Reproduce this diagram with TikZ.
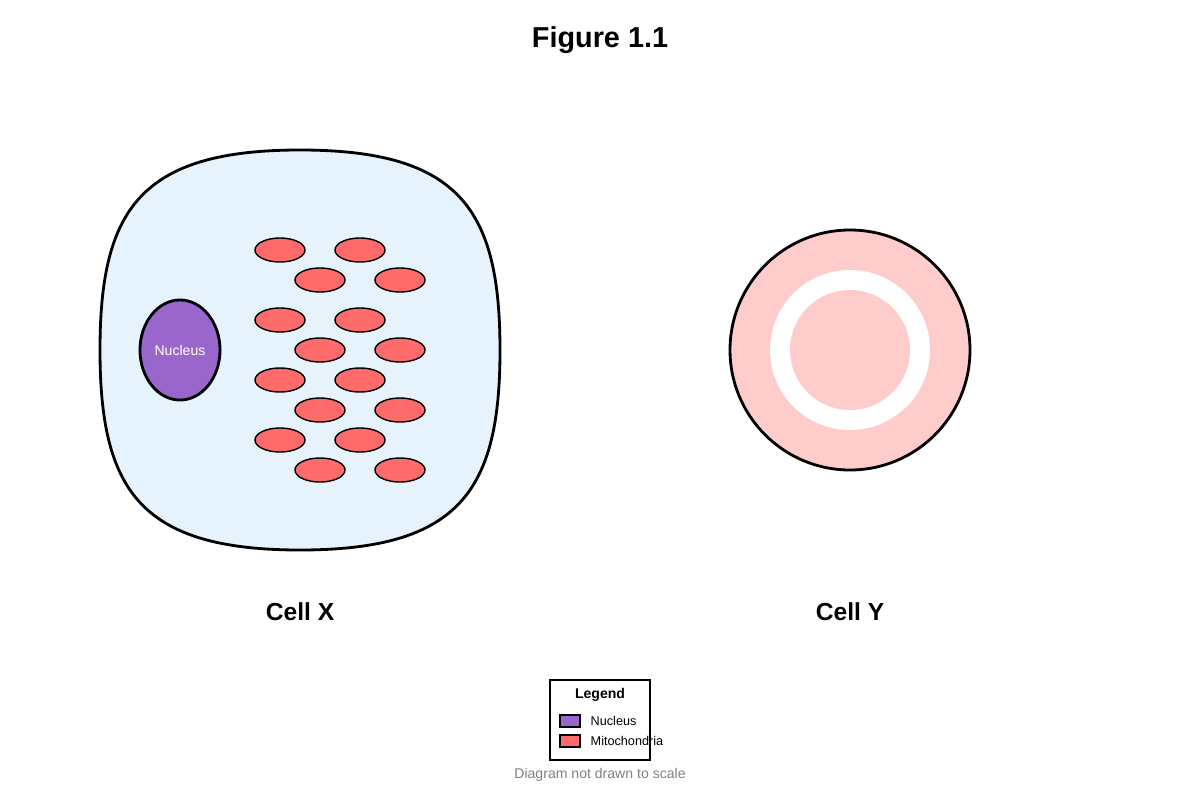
\documentclass[tikz,border=0pt]{standalone}
\usepackage{fontspec}
\setmainfont{Liberation Sans}
\definecolor{cytoplasm}{HTML}{E6F2FC}
\definecolor{nucleusfill}{HTML}{9966CC}
\definecolor{mitofill}{HTML}{FF6B6B}
\definecolor{cellpink}{HTML}{FFCCCC}
\tikzset{
  mito/.style={draw=black,fill=mitofill,ellipse,minimum width=0.5cm,minimum height=0.24cm,inner sep=0pt},
  swatch/.style={draw=black,minimum width=0.2cm,minimum height=0.12cm,inner sep=0pt},
  celllabel/.style={font=\fontsize{7}{8}\selectfont\bfseries}
}
\usetikzlibrary{shapes.geometric}
\begin{document}
\begin{tikzpicture}[x=0.01cm,y=-0.01cm]
  \useasboundingbox (0,0) rectangle (1200,800);
  \node[font=\fontsize{8.2}{9}\selectfont\bfseries] (title) at (600,40) {Figure 1.1};
  % cell X
  \filldraw[draw=black,thick,fill=cytoplasm]
    (300,150) .. controls (460,150) and (500,210) .. (500,350)
    .. controls (500,490) and (460,550) .. (300,550)
    .. controls (140,550) and (100,490) .. (100,350)
    .. controls (100,210) and (140,150) .. (300,150);
  \node[draw=black,thick,fill=nucleusfill,ellipse,minimum width=0.8cm,minimum height=1cm,inner sep=0pt,
        text=white,font=\fontsize{4}{5}\selectfont] (nucleus) at (180,350) {Nucleus};
  \foreach \y [count=\i] in {250,320,380,440} {
    \node[mito] (mitoA\i) at (280,\y) {};
    \node[mito] (mitoB\i) at (360,\y) {};
    \node[mito] (mitoC\i) at (320,\y+30) {};
    \node[mito] (mitoD\i) at (400,\y+30) {};
  }
  \node[celllabel] (labelX) at (300,612) {Cell X};
  % cell Y
  \filldraw[draw=black,thick,fill=cellpink] (850,350) circle (120);
  \fill[white] (850,350) circle (80);
  \fill[cellpink] (850,350) circle (60);
  \node[celllabel] (labelY) at (850,612) {Cell Y};
  % legend
  \draw[black] (550,680) rectangle (650,760);
  \node[font=\fontsize{4}{5}\selectfont\bfseries] (legtitle) at (600,695) {Legend};
  \node[swatch,fill=nucleusfill] (swN) at (570,721) {};
  \node[swatch,fill=mitofill] (swM) at (570,741) {};
  \node[anchor=west,font=\fontsize{3.6}{4}\selectfont,inner sep=0pt] (legN) at (590,721) {Nucleus};
  \node[anchor=west,font=\fontsize{3.6}{4}\selectfont,inner sep=0pt] (legM) at (590,741) {Mitochondria};
  \node[text=gray,font=\fontsize{4}{5}\selectfont] (note) at (600,775) {Diagram not drawn to scale};
\end{tikzpicture}
\end{document}
